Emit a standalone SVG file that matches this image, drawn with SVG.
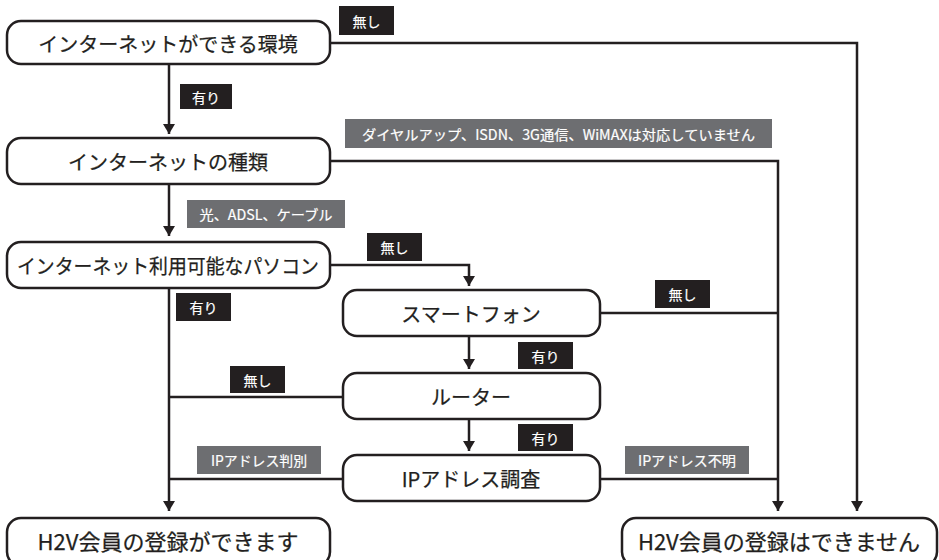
<svg xmlns="http://www.w3.org/2000/svg" width="939" height="560" viewBox="0 0 939 560">
<style>
.node rect{fill:#fff;stroke:#231f20;stroke-width:2.5}
.node text{font-family:"Noto Sans CJK JP","Noto Sans",sans-serif;font-size:20px;font-weight:400;fill:#231f20;stroke:#231f20;stroke-width:0.25;text-anchor:middle;dominant-baseline:central}
.node text.big{font-size:22px}
.lab rect.k{fill:#231f20}
.lab rect.g{fill:#6d6e71}
.lab text{font-family:"Noto Sans CJK JP","Noto Sans",sans-serif;font-size:14px;font-weight:400;fill:#fff;stroke:#fff;stroke-width:0.2;text-anchor:middle;dominant-baseline:central}
.conn path{fill:none;stroke:#231f20;stroke-width:2.5}
</style>
<defs>
<marker id="ah" viewBox="0 0 10 12" refX="10" refY="6" markerWidth="10" markerHeight="12" markerUnits="userSpaceOnUse" orient="auto">
<path d="M0,0 L10,6 L0,12 z" fill="#231f20"/>
</marker>
</defs>
<rect width="939" height="560" fill="#fff"/>
<g id="connectors" class="conn">
<path d="M330,43 H857 V511" marker-end="url(#ah)"/>
<path d="M169,64 V134" marker-end="url(#ah)"/>
<path d="M330,161 H778 V511" marker-end="url(#ah)"/>
<path d="M169,184 V236" marker-end="url(#ah)"/>
<path d="M330,265 H469 V286" marker-end="url(#ah)"/>
<path d="M169,288 V511" marker-end="url(#ah)"/>
<path d="M600,313 H778"/>
<path d="M469,336 V369" marker-end="url(#ah)"/>
<path d="M343,397 H169"/>
<path d="M469,419 V451" marker-end="url(#ah)"/>
<path d="M343,479 H169"/>
<path d="M600,479 H778"/>
</g>
<g id="n1" class="node"><rect x="7" y="21" width="323" height="43" rx="14"/><text x="168" y="43">インターネットができる環境</text></g>
<g id="n2" class="node"><rect x="7" y="138" width="323" height="46" rx="14"/><text x="168" y="161">インターネットの種類</text></g>
<g id="n3" class="node"><rect x="7" y="242" width="323" height="46" rx="14"/><text x="168" y="265" textLength="302" lengthAdjust="spacingAndGlyphs">インターネット利用可能なパソコン</text></g>
<g id="n4" class="node"><rect x="343" y="290" width="257" height="46" rx="14"/><text x="471" y="313">スマートフォン</text></g>
<g id="n5" class="node"><rect x="343" y="373" width="257" height="46" rx="14"/><text x="471" y="396">ルーター</text></g>
<g id="n6" class="node"><rect x="343" y="455" width="257" height="46" rx="14"/><text x="471" y="478">IPアドレス調査</text></g>
<g id="n7" class="node"><rect x="7" y="518" width="323" height="48" rx="14"/><text class="big" x="168" y="540">H2V会員の登録ができます</text></g>
<g id="n8" class="node"><rect x="622" y="518" width="315" height="48" rx="14"/><text class="big" x="779" y="540">H2V会員の登録はできません</text></g>
<g id="labels" class="lab">
<g><rect class="k" x="339" y="6" width="55" height="29"/><text x="366.5" y="20.5">無し</text></g>
<g><rect class="k" x="180" y="84" width="52" height="25"/><text x="206" y="96.5">有り</text></g>
<g><rect class="g" x="345" y="119" width="427" height="29"/><text x="558.5" y="133.5" textLength="393" lengthAdjust="spacingAndGlyphs">ダイヤルアップ、ISDN、3G通信、WiMAXは対応していません</text></g>
<g><rect class="g" x="187" y="200" width="158" height="28"/><text x="266" y="214" textLength="133" lengthAdjust="spacingAndGlyphs">光、ADSL、ケーブル</text></g>
<g><rect class="k" x="367" y="233" width="55" height="28"/><text x="394.5" y="247">無し</text></g>
<g><rect class="k" x="176" y="293" width="55" height="28"/><text x="203.5" y="307">有り</text></g>
<g><rect class="k" x="655" y="280" width="55" height="28"/><text x="682.5" y="294">無し</text></g>
<g><rect class="k" x="518" y="342" width="55" height="27"/><text x="545.5" y="355.5">有り</text></g>
<g><rect class="k" x="230" y="366" width="55" height="27"/><text x="257.5" y="379.5">無し</text></g>
<g><rect class="k" x="518" y="424" width="55" height="27"/><text x="545.5" y="437.5">有り</text></g>
<g><rect class="g" x="197" y="446" width="124" height="28"/><text x="259" y="460" textLength="96" lengthAdjust="spacingAndGlyphs">IPアドレス判別</text></g>
<g><rect class="g" x="625" y="446" width="124" height="28"/><text x="687" y="460" textLength="98" lengthAdjust="spacingAndGlyphs">IPアドレス不明</text></g>
</g>
</svg>
